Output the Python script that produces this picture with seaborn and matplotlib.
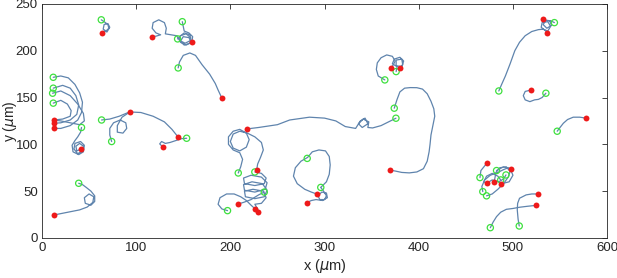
import matplotlib
matplotlib.use('Agg')
import matplotlib.pyplot as plt
import pandas as pd
import seaborn as sns

# Cell trajectories, (x, y) in um
track_01 = [(63, 233), (66, 231), (70, 228), (71, 224), (68, 221), (65, 223),
            (66, 228), (70, 229), (72, 225), (69, 220), (66, 221), (63.7, 219)]
track_02 = [(149, 231), (150, 226), (151, 221), (156, 219), (160, 215),
            (159, 209), (153, 206), (147, 209), (146, 215), (151, 219),
            (157, 217), (158, 211), (152, 208), (146, 211), (143, 216),
            (137, 217), (131, 218), (132, 224), (130, 230), (124, 233),
            (118, 230), (117, 224), (121, 219), (126, 217), (121, 215.5),
            (117, 215)]
track_03 = [(144, 212.6), (147, 216), (153, 218), (158, 214), (157, 208),
            (151, 206), (147, 210), (150, 215), (156, 214), (159, 209)]
track_04 = [(144.6, 181.6), (146, 188), (150, 195), (157, 197.6), (163, 195),
            (170, 185), (178, 175), (184, 165), (187, 158), (190.7, 150)]
track_05 = [(12, 171.6), (20, 173), (28, 171), (35, 164), (40, 155),
            (43, 145), (42, 134), (38, 126), (30, 120), (20, 117),
            (12.7, 117)]
track_06 = [(12, 160), (22, 163), (30, 160), (36, 152), (39, 142),
            (37, 132), (30, 126), (20, 123), (12.7, 122.5)]
track_07 = [(11.3, 154.6), (20, 157), (30, 152), (38, 143), (44, 133),
            (45, 125), (40, 121), (30, 123), (20, 125), (12.7, 126)]
track_08 = [(12, 144), (20, 147), (27, 143), (31, 136), (30, 130),
            (22, 127), (12.7, 126)]
track_09 = [(42, 118), (41, 113), (38, 108), (35, 104), (32, 99), (33, 92),
            (39, 89), (44, 92), (45, 99), (41, 103), (35, 101), (34, 95),
            (38, 90), (43, 93), (44, 98), (40, 101), (36, 98), (37, 93),
            (41, 94.7)]
track_10 = [(74, 103), (72, 110), (72, 117), (76, 123), (83, 126), (89, 123),
            (90, 117), (86, 112), (80, 113), (80, 120), (85, 129),
            (93.4, 134.6)]
track_11 = [(63.3, 126), (72, 127), (82, 130), (93, 134.6), (105, 134),
            (118, 130), (130, 124), (138, 116), (144.7, 107.6)]
track_12 = [(153.6, 106.5), (148, 106), (142, 104), (136, 102), (131, 101),
            (127, 103), (125, 100.5), (127, 98.5), (128, 97.6)]
track_13 = [(39, 58.4), (43, 57), (47, 54), (52, 50), (56, 45), (56, 39),
            (52, 35), (46, 37), (45, 43), (50, 47), (55, 44), (54, 38),
            (48, 33), (40, 30), (30, 28), (20, 26), (13, 24.6)]
track_14 = [(218, 116.5), (230, 118), (250, 121), (263, 126), (284, 129),
            (300, 128), (312, 125), (322, 119), (333, 117), (338, 125),
            (343, 128), (346, 122), (340, 118), (336, 122), (341, 127),
            (347, 124), (346, 118), (351, 117.5), (360, 120), (368, 124),
            (375.8, 127.9)]
track_15 = [(374, 138.6), (377, 148), (380, 156), (385, 160), (391, 160.6),
            (398, 160.5), (404, 159), (409, 154), (413, 146), (416, 138),
            (417, 130), (415, 120), (413, 110), (412, 100), (411, 92),
            (409, 82), (405, 74), (398, 70.5), (390, 69.5), (382, 70),
            (375, 71.5), (369, 72.6)]
track_16 = [(364, 168.8), (357, 173), (355, 180), (356, 187), (360, 192.5),
            (366, 195.5), (372, 194), (375, 189), (373, 185), (371, 182)]
track_17 = [(376, 177.7), (377, 183), (372, 186), (374, 191), (380, 193),
            (384, 189), (382, 183), (376, 184), (376, 190), (382, 191),
            (383, 185), (380, 181)]
track_18 = [(208.4, 69.4), (211, 76), (213, 84), (210, 91), (203, 94),
            (198, 100), (198, 108), (203, 114), (210, 116), (217, 112),
            (220, 105), (217, 97), (210, 93), (203, 96), (200, 103),
            (203, 111), (210, 114), (218, 112), (226, 108), (233, 102),
            (235, 94), (232, 86), (229, 79), (228, 73)]
track_19 = [(226, 70.5), (233, 69), (238, 64), (236, 58), (226, 56),
            (215, 58), (214, 64), (222, 67), (233, 65), (239, 59), (237, 52),
            (226, 49), (215, 51), (214, 57), (223, 60), (234, 58), (239, 51),
            (236, 44), (226, 42), (216, 44), (215, 50), (224, 52), (235, 50),
            (238, 43), (233, 37), (226, 36), (229, 31), (229, 27.8)]
track_20 = [(197, 29.2), (191, 31), (187, 36), (189, 43), (196, 47),
            (204, 47), (211, 44), (217, 40), (222, 35), (226, 31.3)]
track_21 = [(236, 49), (230, 46), (222, 41), (214, 38), (208.4, 36.3)]
track_22 = [(296, 54), (302, 60), (305, 68), (306, 78), (305, 87), (301, 93),
            (294, 94), (287, 92), (282, 86), (275, 82), (269, 75), (267, 66),
            (271, 58), (279, 52), (286, 49), (291.6, 47)]
track_23 = [(296, 54), (299, 50), (302, 45), (300, 41), (295, 41), (293, 45),
            (297, 49), (302, 48), (303, 43), (298, 40), (291, 41), (286, 40),
            (281, 37.7)]
track_24 = [(485, 157), (488, 164), (492, 173), (497, 186), (502, 200),
            (507, 209), (513, 216), (520, 220.5), (527, 222.5), (532, 223),
            (537, 221), (540, 226), (537, 231), (531, 230), (530, 225),
            (535, 221), (536, 218.7)]
track_25 = [(544, 230), (540, 232), (535, 232), (532, 228), (536, 224),
            (541, 227), (539, 232), (533, 233), (532, 234)]
track_26 = [(535, 154.6), (531, 150), (527, 148), (523, 147.5), (518, 145.6),
            (513, 147.5), (511, 152), (513, 156.5), (519, 158)]
track_27 = [(547, 114), (550, 118), (553.5, 122.5), (558, 126.5), (564, 129),
            (571, 129), (577.5, 128)]
track_28 = [(476, 11), (479, 17), (482.6, 22.8), (487, 27.5), (493, 30.6),
            (500, 31.5), (507, 32.8), (515, 33.8), (524.4, 34.8)]
track_29 = [(506.7, 12.8), (505.5, 20), (504.6, 30), (505, 37), (507, 42.4),
            (514, 46), (520, 47), (527, 47)]
track_30 = [(465, 64.5), (466, 72), (470, 77), (472.7, 80.5)]
track_31 = [(468, 49.5), (467, 55), (470, 62), (476, 67), (484, 70),
            (490, 73), (495, 75), (498, 73.4)]
track_32 = [(472, 45), (478, 47), (484, 52), (490, 58), (495, 65), (497, 71),
            (493, 76), (486, 75), (482, 70), (480, 59.5)]
track_33 = [(482.6, 72), (490, 76), (497, 74), (500, 67), (496, 60),
            (487, 57.7)]
track_34 = [(492.6, 67.3), (490, 63), (485, 60), (478, 62), (472, 58.4)]
track_35 = [(487, 62), (484, 66), (478, 69), (472, 66), (469, 60),
            (472, 58.4)]

tracks = [track_01, track_02, track_03, track_04, track_05, track_06,
          track_07, track_08, track_09, track_10, track_11, track_12,
          track_13, track_14, track_15, track_16, track_17, track_18,
          track_19, track_20, track_21, track_22, track_23, track_24,
          track_25, track_26, track_27, track_28, track_29, track_30,
          track_31, track_32, track_33, track_34, track_35]

# Start (green) and end (red) positions
start_x = [63, 149, 144, 144.6, 12, 12, 11.3, 12, 42, 63.3, 74, 153.6, 39,
           208.4, 226, 236, 197, 281.6, 296, 364, 376, 375.8, 374, 485, 544,
           535, 547, 476, 506.7, 465, 482.6, 492.6, 487, 468, 472]
start_y = [233, 231, 212.6, 181.6, 171.6, 160, 154.6, 144, 118, 126, 103,
           106.5, 58.4, 69.4, 70.5, 49, 29.2, 85, 54, 168.8, 177.7, 127.9,
           138.6, 157, 230, 154.6, 114, 11, 12.8, 64.5, 72, 67.3, 62, 49.5, 45]
end_x = [63.7, 117, 159, 190.7, 12.7, 12.7, 12.7, 41, 93.4, 144.7, 128, 13,
         218, 228, 208.4, 226, 229, 291.6, 281, 369, 371, 380, 532, 536, 519,
         577.5, 524.4, 527, 472.7, 498, 472, 480, 487.6]
end_y = [219, 215, 209, 150, 126, 122.5, 117, 94.7, 134.6, 107.6, 97.6, 24.6,
         116.5, 73, 36.3, 31.3, 27.8, 47, 37.7, 72.6, 182, 181, 234, 218.7,
         158, 128, 34.8, 47, 80.5, 73.4, 58.4, 59.5, 57.7]

rows = []
for i, tr in enumerate(tracks):
    for x, y in tr:
        rows.append({'track': i, 'x': x, 'y': y})
path_df = pd.DataFrame(rows)
start_df = pd.DataFrame({'x': start_x, 'y': start_y})
end_df = pd.DataFrame({'x': end_x, 'y': end_y})

sns.set_style('white')
plt.rcParams['font.family'] = ['Liberation Sans', 'DejaVu Sans']
plt.rcParams['mathtext.fontset'] = 'dejavusans'

fig = plt.figure(figsize=(6.17, 2.78), dpi=100)
ax = fig.add_axes([0.068, 0.144, 0.916, 0.842])

sns.lineplot(data=path_df, x='x', y='y', units='track', estimator=None,
             sort=False, color='#5f84ad', lw=0.9, ax=ax)
sns.scatterplot(data=start_df, x='x', y='y', ax=ax, s=20, marker='o',
                edgecolor='#3ee03e', linewidth=0.9, zorder=3)
ax.collections[-1].set_facecolor('none')
sns.scatterplot(data=end_df, x='x', y='y', ax=ax, s=18, color='#ee1a1a',
                edgecolor='#ee1a1a', linewidth=0, zorder=4)

ax.set_xlim(0, 600)
ax.set_ylim(0, 250)
ax.set_xticks(range(0, 601, 100))
ax.set_yticks(range(0, 251, 50))
ax.tick_params(direction='in', length=3.5, width=0.6, top=True, right=True,
               labelsize=9.5, colors='#262626', pad=3)
for sp in ax.spines.values():
    sp.set_color('#262626')
    sp.set_linewidth(0.6)
ax.set_xlabel('x ($\\mu$m)', fontsize=10.5, color='#262626', labelpad=2)
ax.set_ylabel('y ($\\mu$m)', fontsize=10, color='#262626')
ax.yaxis.set_label_coords(-0.041, 0.5)

fig.savefig('out.png', dpi=100)
